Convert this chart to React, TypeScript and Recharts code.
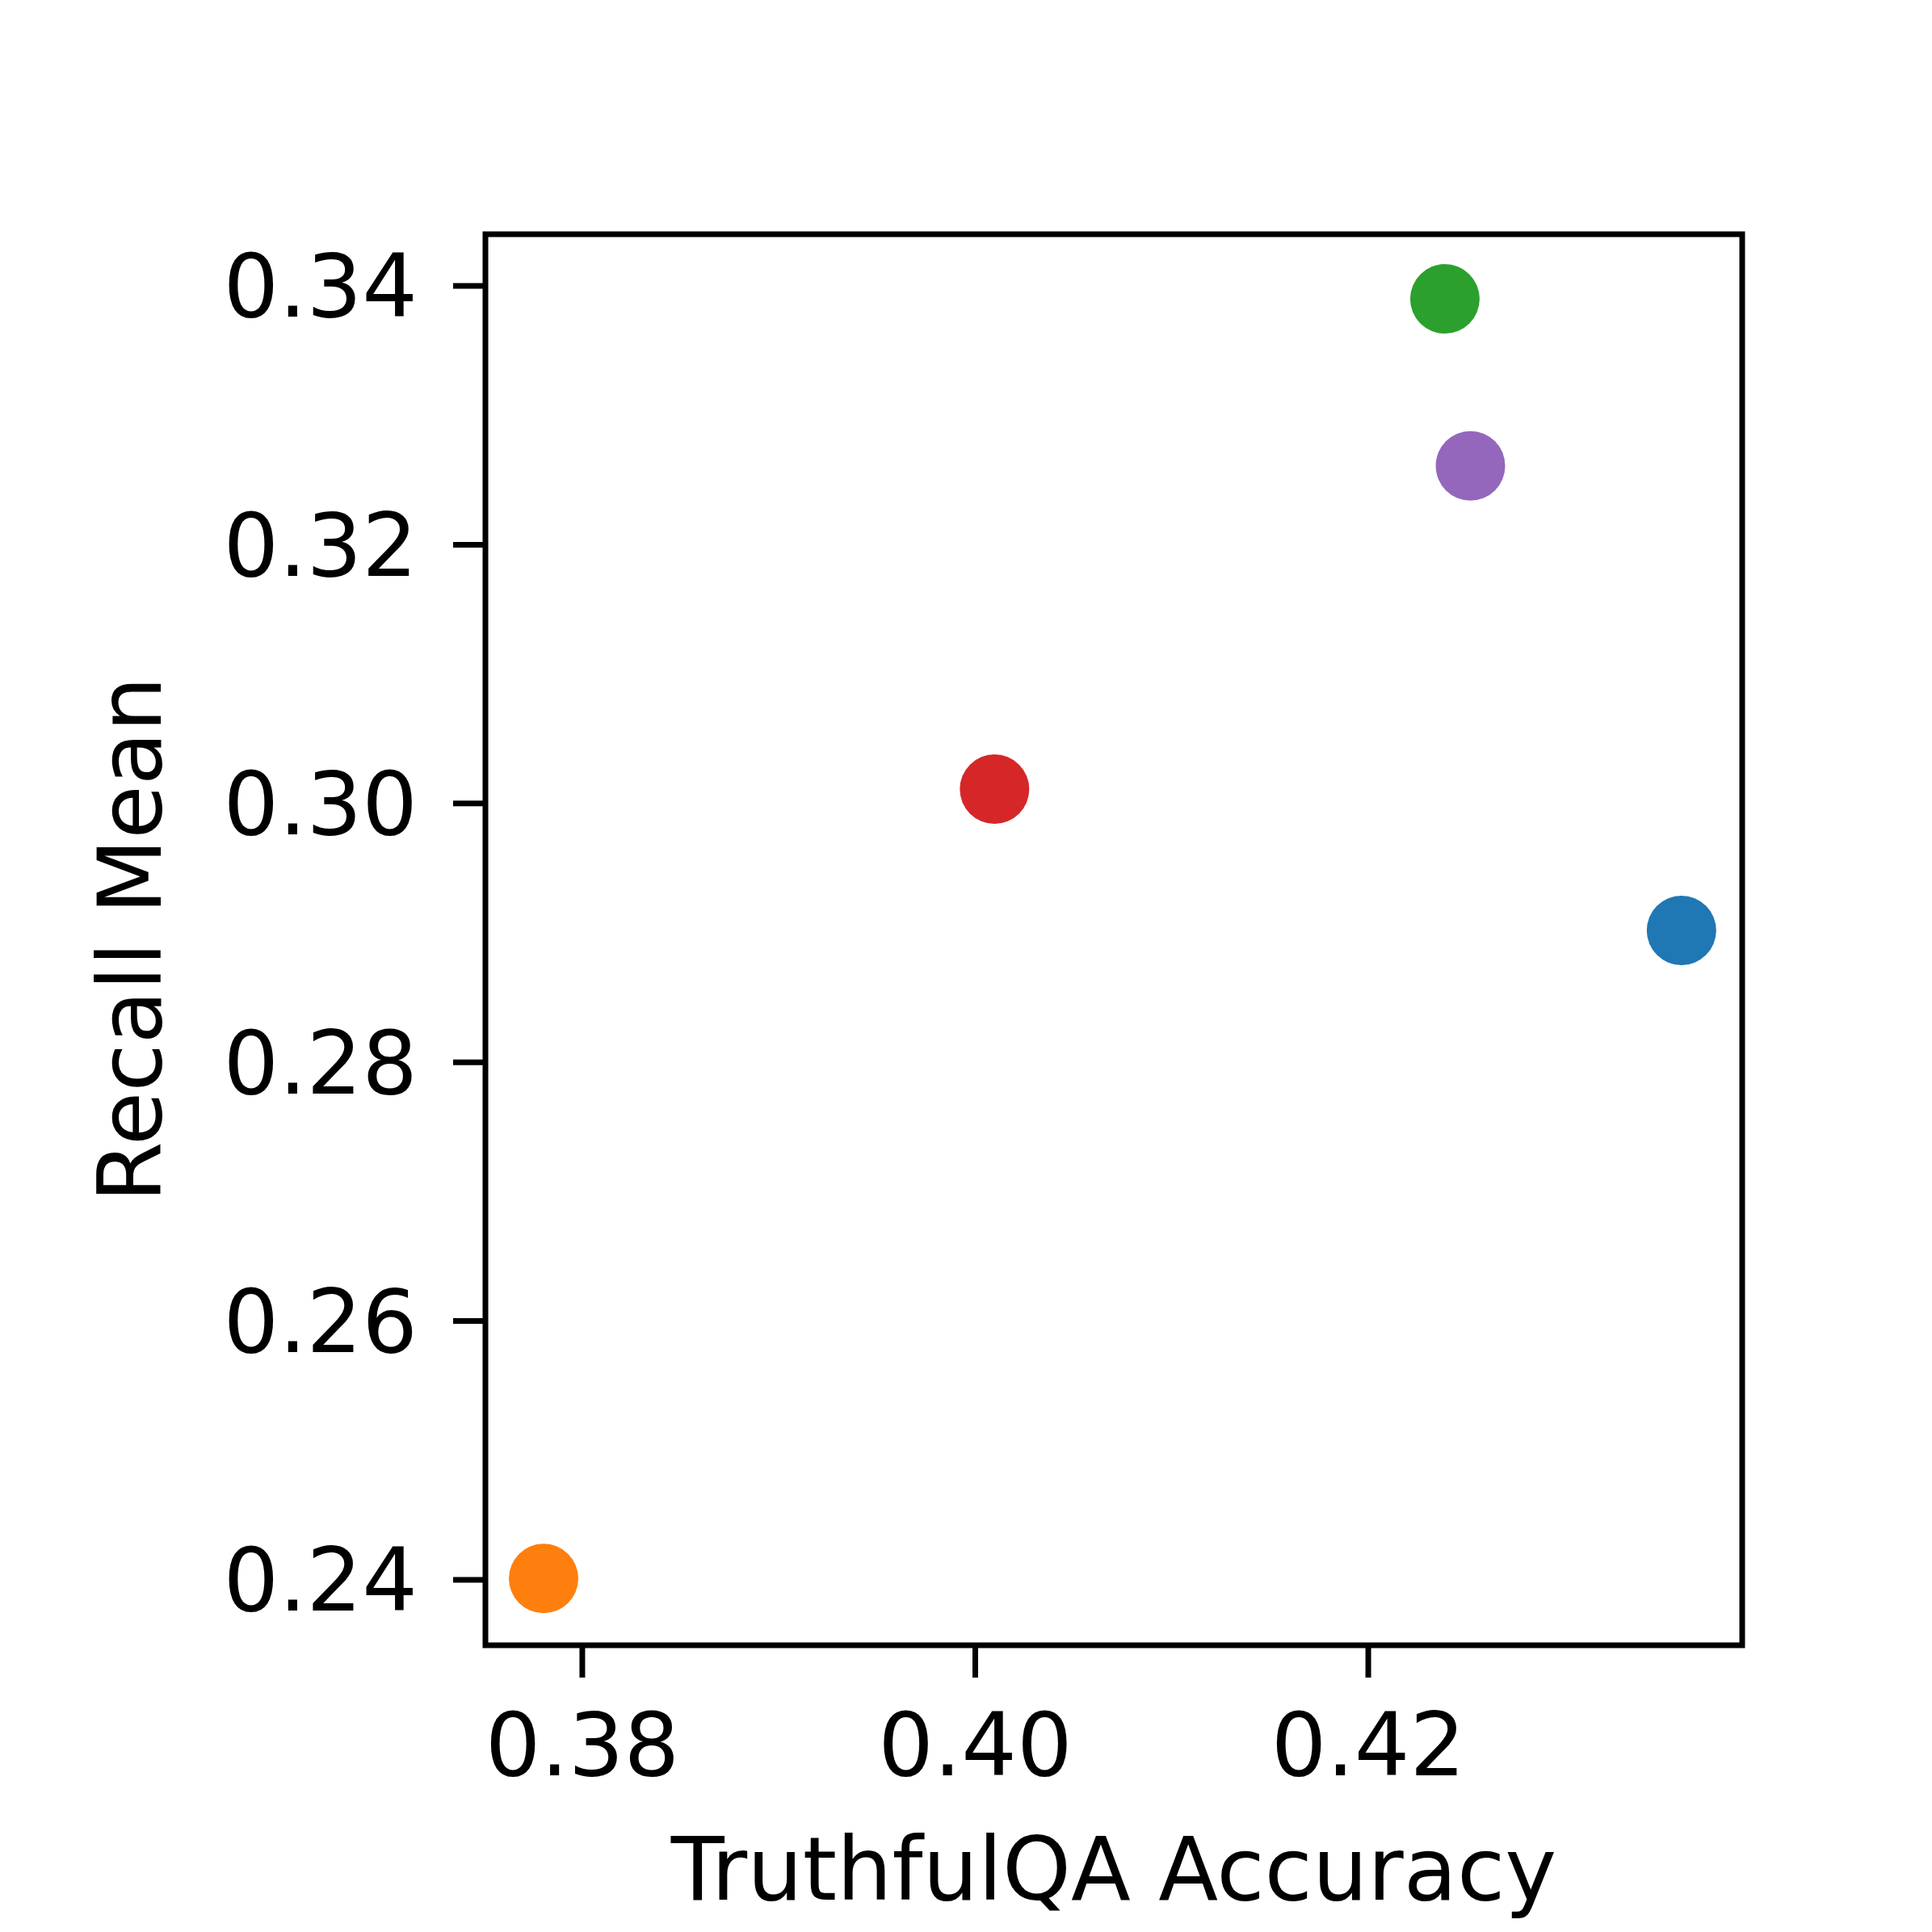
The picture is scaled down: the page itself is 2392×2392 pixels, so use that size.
import {
  ReferenceArea,
  Scatter,
  ScatterChart,
  XAxis,
  YAxis,
} from "recharts";

const accuracy = [0.43594, 0.37803, 0.4239, 0.40098, 0.4252];
const recallMean = [0.29019, 0.2401, 0.339, 0.30111, 0.3261];
const pointColors = ["#1f77b4", "#ff7f0e", "#2ca02c", "#d62728", "#9467bd"];

const xTicks = [0.38, 0.4, 0.42];
const yTicks = [0.24, 0.26, 0.28, 0.3, 0.32, 0.34];

const X_DOMAIN: [number, number] = [0.37507, 0.43903];
const Y_DOMAIN: [number, number] = [0.23494, 0.344];

const FONT = "'DejaVu Sans', sans-serif";
const FONT_SIZE = 108;

const data = accuracy.map((x, i) => ({
  x,
  y: recallMean[i],
  fill: pointColors[i],
}));

type DotProps = { cx?: number; cy?: number; payload?: { fill: string } };

function Dot({ cx, cy, payload }: DotProps) {
  return <circle cx={cx} cy={cy} r={43} fill={payload?.fill} />;
}

type LabelProps = {
  viewBox?: { x: number; y: number; width: number; height: number };
};

function XTitle({ viewBox }: LabelProps) {
  if (!viewBox) return null;
  return (
    <text
      x={1379}
      y={2352}
      textAnchor="middle"
      fontFamily={FONT}
      fontSize={FONT_SIZE}
      fill="#000"
    >
      TruthfulQA Accuracy
    </text>
  );
}

function YTitle({ viewBox }: LabelProps) {
  if (!viewBox) return null;
  return (
    <text
      x={199}
      y={1163}
      transform="rotate(-90 199 1163)"
      textAnchor="middle"
      fontFamily={FONT}
      fontSize={FONT_SIZE}
      fill="#000"
    >
      Recall Mean
    </text>
  );
}

const tickStyle = { fill: "#000", fontFamily: FONT, fontSize: FONT_SIZE };
const tickLineStyle = { stroke: "#000", strokeWidth: 7 };

export default function App() {
  return (
    <div
      style={{
        position: "absolute",
        left: 0,
        top: 0,
        width: 2392,
        height: 2392,
        background: "#fff",
      }}
    >
      <ScatterChart
        width={2392}
        height={2392}
        margin={{ top: 290, right: 235, bottom: 55, left: 301 }}
      >
        <XAxis
          type="number"
          dataKey="x"
          domain={X_DOMAIN}
          ticks={xTicks}
          allowDataOverflow
          axisLine={false}
          tickLine={tickLineStyle}
          tickSize={40}
          tickMargin={44}
          tick={tickStyle}
          tickFormatter={(v: number) => v.toFixed(2)}
          height={300}
          label={<XTitle />}
        />
        <YAxis
          type="number"
          dataKey="y"
          domain={Y_DOMAIN}
          ticks={yTicks}
          allowDataOverflow
          axisLine={false}
          tickLine={tickLineStyle}
          tickSize={40}
          tickMargin={44}
          tick={tickStyle}
          tickFormatter={(v: number) => v.toFixed(2)}
          width={300}
          label={<YTitle />}
        />
        <ReferenceArea
          x1={X_DOMAIN[0]}
          x2={X_DOMAIN[1]}
          y1={Y_DOMAIN[0]}
          y2={Y_DOMAIN[1]}
          fill="none"
          stroke="#000"
          strokeWidth={7}
          ifOverflow="visible"
        />
        <Scatter data={data} shape={<Dot />} isAnimationActive={false} />
      </ScatterChart>
    </div>
  );
}
